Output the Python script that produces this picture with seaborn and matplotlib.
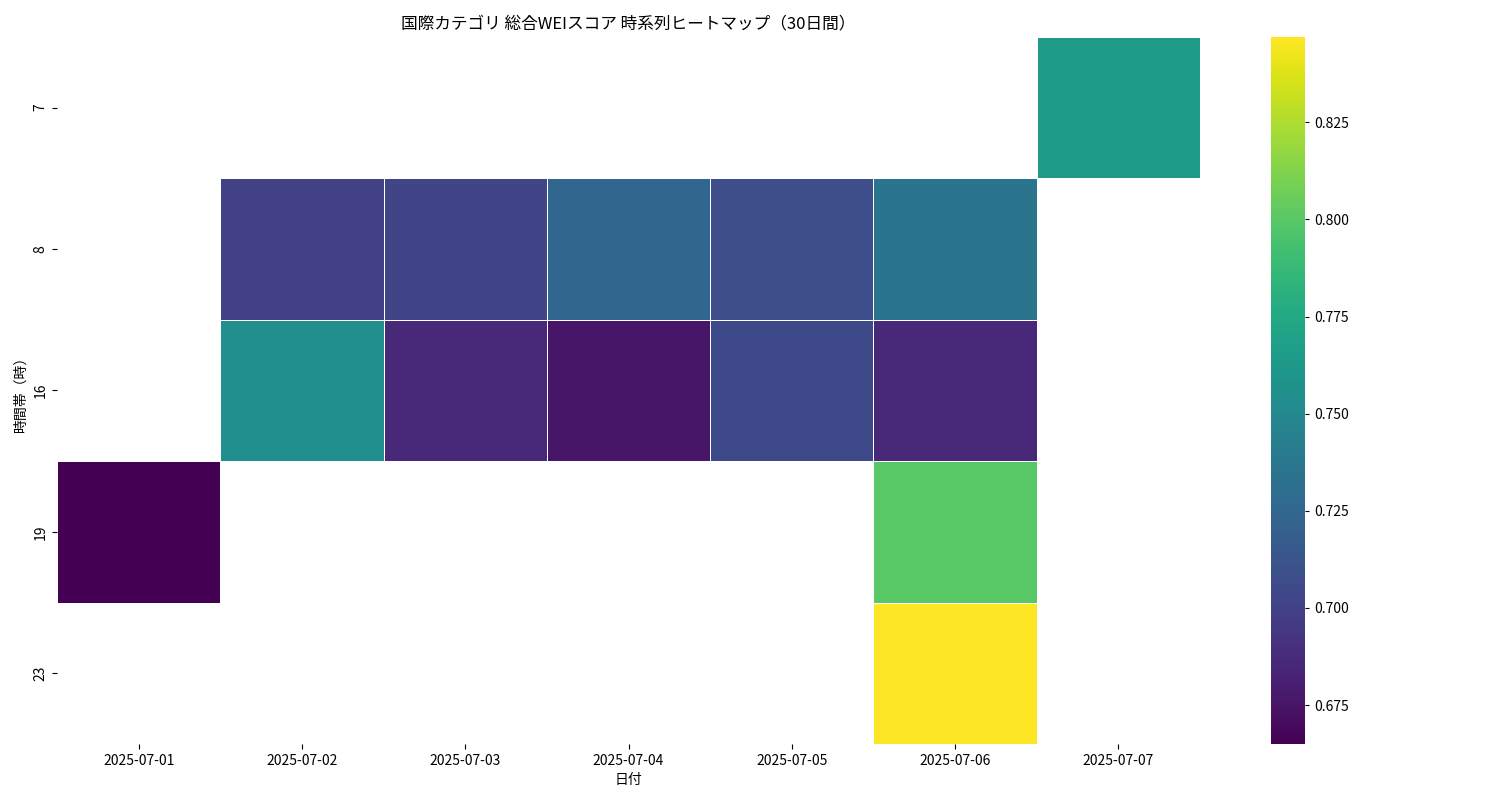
import matplotlib
matplotlib.use("Agg")
import matplotlib.pyplot as plt
import seaborn as sns
import pandas as pd
import numpy as np

plt.rcParams["font.family"] = "Noto Sans CJK JP"

dates = ["2025-07-01", "2025-07-02", "2025-07-03", "2025-07-04", "2025-07-05", "2025-07-06", "2025-07-07"]
hours = [7, 8, 16, 19, 23]
nan = np.nan
row_7 = [nan, nan, nan, nan, nan, nan, 0.765]
row_8 = [nan, 0.700, 0.702, 0.725, 0.708, 0.735, nan]
row_16 = [nan, 0.755, 0.685, 0.675, 0.705, 0.685, nan]
row_19 = [0.665, nan, nan, nan, nan, 0.800, nan]
row_23 = [nan, nan, nan, nan, nan, 0.847, nan]

df = pd.DataFrame([row_7, row_8, row_16, row_19, row_23], index=hours, columns=dates)

fig = plt.figure(figsize=(15, 8), dpi=100)
ax = fig.add_axes([0.038, 0.07, 0.762, 0.884])
cax = fig.add_axes([0.847, 0.07, 0.023, 0.884])
sns.heatmap(df, ax=ax, cbar_ax=cax, cmap="viridis", linewidths=0.5, linecolor="white")
ax.set_title("国際カテゴリ 総合WEIスコア 時系列ヒートマップ（30日間）", fontsize=12)
ax.set_xlabel("日付")
ax.set_ylabel("時間帯（時）")
ax.tick_params(axis="x", rotation=0)
cax.tick_params(length=3)
fig.savefig("out.png")
